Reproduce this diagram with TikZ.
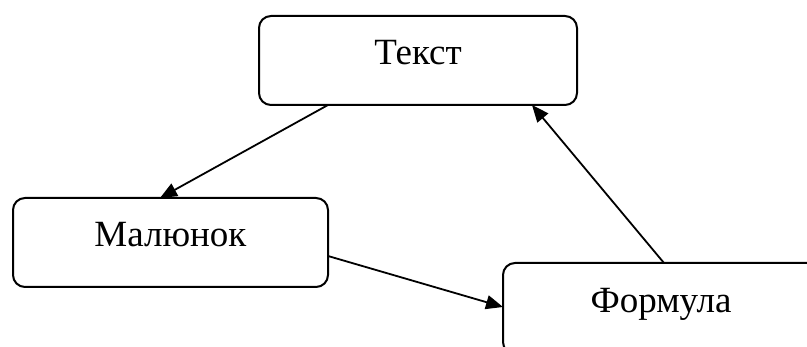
\documentclass[tikz,border=0pt]{standalone}
\usepackage{fontspec}
\setmainfont{Liberation Serif}
\usetikzlibrary{calc,arrows.meta}
\begin{document}
\begin{tikzpicture}[x=1pt,y=-1pt,
  box/.style={draw,line width=2pt,rounded corners=12pt,anchor=north west,
    inner sep=0pt,outer sep=0pt,font=\fontsize{37}{40}\selectfont,
    text height=30pt,text depth=21pt},
  conn/.style={line width=1.8pt,-{Triangle[length=17pt,width=14pt]}}]
\useasboundingbox (0,0) rectangle (807,347);
\clip (0,0) rectangle (807,347);
\fill[white] (0,0) rectangle (807,347);
\node[box,minimum width=318pt,minimum height=89pt] (t) at (259,16) {Текст};
\node[box,minimum width=315pt,minimum height=89pt] (m) at (13,198) {Малюнок};
\node[box,minimum width=316pt,minimum height=91pt] (f) at (503,263) {Формула};
\draw[conn] ($(t.south west)+(69,0)$) -- ($(m.north west)+(147,0)$);
\draw[conn] ($(m.north east)+(0,58)$) -- ($(f.north west)+(0,44)$);
\draw[conn] ($(f.north west)+(161,0)$) -- ($(t.south west)+(273,0)$);
\end{tikzpicture}
\end{document}
